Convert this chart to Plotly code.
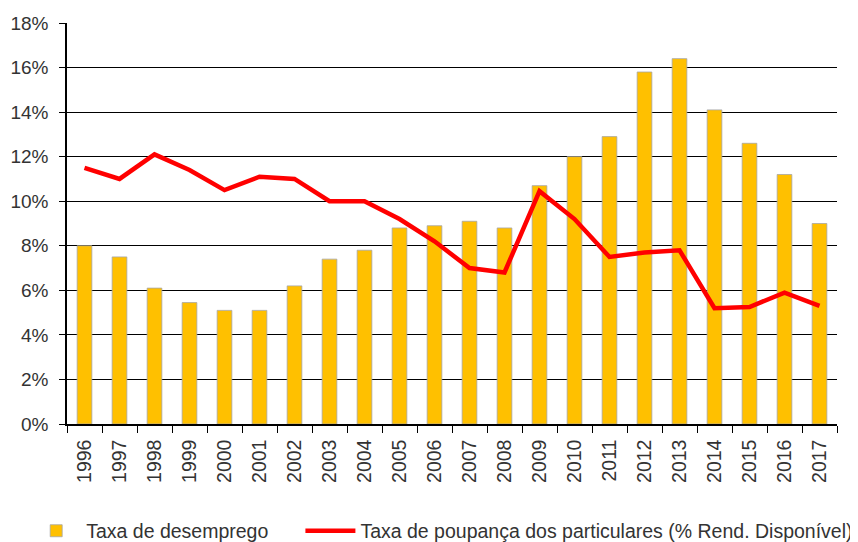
import plotly.graph_objects as go

years = [str(y) for y in range(1996, 2018)]
desemprego = [8.0, 7.5, 6.1, 5.45, 5.1, 5.1, 6.2, 7.4, 7.8, 8.8, 8.9, 9.1, 8.8, 10.7,
              12.0, 12.9, 15.8, 16.4, 14.1, 12.6, 11.2, 9.0]
poupanca = [11.5, 11.0, 12.1, 11.4, 10.5, 11.1, 11.0, 10.0, 10.0, 9.2, 8.2, 7.0, 6.8, 10.45,
            9.2, 7.5, 7.7, 7.8, 5.2, 5.25, 5.9, 5.3]
y_ticks = [0, 2, 4, 6, 8, 10, 12, 14, 16, 18]
y_labels = [f"{v}%" for v in y_ticks]
name_bar = "Taxa de desemprego" + "\u00a0" * 5
name_line = "Taxa de poupança dos particulares (% Rend. Disponível)"

font_family = "Liberation Sans, Arial, sans-serif"
txt = "#333333"

fig = go.Figure()
fig.add_trace(go.Bar(
    x=years, y=desemprego, name=name_bar,
    marker=dict(color="#FFC000", line=dict(color="#A6A6A6", width=0.8)),
    width=0.42,
))
fig.add_trace(go.Scatter(
    x=years, y=poupanca, name=name_line,
    mode="lines", line=dict(color="#FF0000", width=4.5),
))

# the page body has an 8px margin, so the figure is sized to the remaining window
fig.update_layout(
    width=850, height=534,
    margin=dict(l=59, r=21, t=15, b=118, autoexpand=False),
    plot_bgcolor="white", paper_bgcolor="white",
    font=dict(family=font_family, size=19.5, color=txt),
    showlegend=True,
    legend=dict(orientation="h", x=-0.053, y=-0.267, xanchor="left", yanchor="middle",
                font=dict(size=19.5, color=txt), itemwidth=50,
                traceorder="normal"),
)
fig.update_xaxes(
    type="category", tickangle=-90, tickson="boundaries",
    ticks="outside", ticklen=7, tickcolor="#000000",
    showline=True, linecolor="#000000", linewidth=1.5,
    showgrid=False, tickfont=dict(size=19.5, color=txt),
    ticklabelstandoff=6, automargin=False,
)
fig.update_yaxes(
    range=[0, 18], tickvals=y_ticks, ticktext=y_labels,
    ticks="outside", ticklen=6, tickcolor="#000000",
    showline=True, linecolor="#000000", linewidth=1.5,
    showgrid=True, gridcolor="#000000", gridwidth=1,
    zeroline=False, tickfont=dict(size=19, color=txt),
    ticklabelstandoff=7, automargin=False,
)

fig.write_html("out.html")
